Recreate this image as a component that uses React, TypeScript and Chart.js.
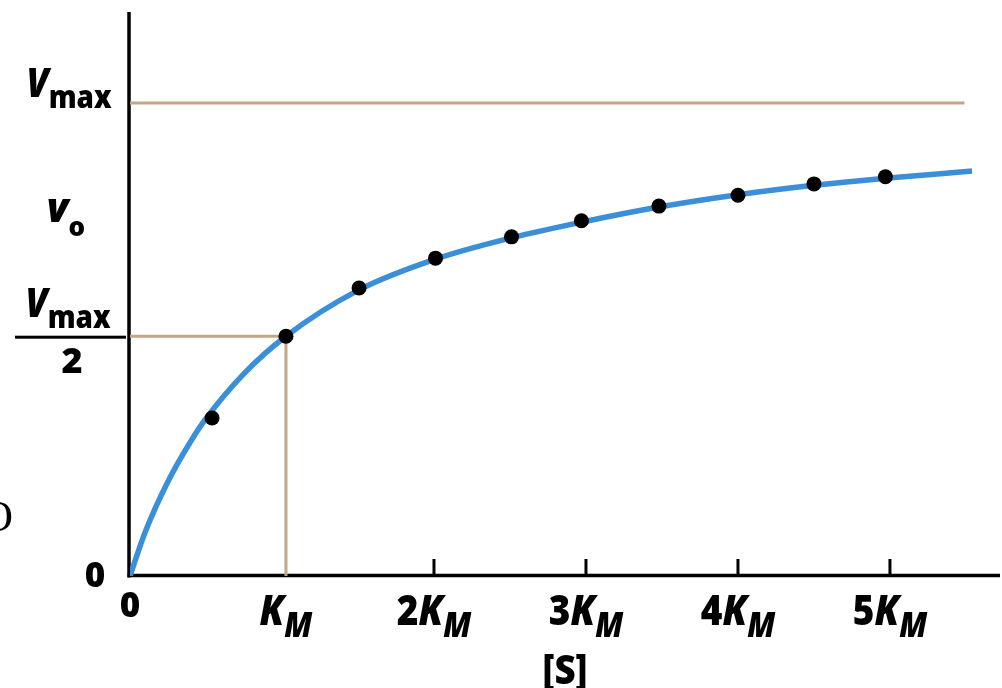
import React, { useEffect, useRef } from "react";
import { Chart, registerables } from "chart.js";

Chart.register(...registerables);

// ---- data (x in units of K_M, y in units of Vmax) ----
const pointX = [0.54, 1.026, 1.507, 2.01, 2.51, 2.97, 3.48, 4.0, 4.5, 4.97];
const pointY = [0.334, 0.507, 0.609, 0.672, 0.717, 0.751, 0.782, 0.805, 0.829, 0.844];

const curveX = [0, 0.1, 0.25, 0.4, 0.5, 0.75, 1.026, 1.507, 2.01, 2.51, 2.97, 3.48, 4.0, 4.5, 4.97, 5.54];
const curveY = [0, 0.093, 0.2, 0.285, 0.333, 0.428, 0.507, 0.605, 0.67, 0.715, 0.748, 0.78, 0.806, 0.826, 0.841, 0.856];

const vmax = 1;
const halfVmax = 0.507;
const km = 1.026;
const vmaxLineEnd = 5.49;

const xTickValues = [0, km, 2, 3, 4, 5];
const xTickLabels = ["0", "K_M", "2K_M", "3K_M", "4K_M", "5K_M"];
const xTickMarks = [2, 3, 4, 5];

const yTickValues = [0, halfVmax, vmax];
const yTickLabels = ["0", "V_max/2", "V_max"];

const xTitle = "[S]";
const yTitle = "v_o";

const X_MAX = 5.724;
const Y_MAX = 1.1924;

const BLUE = "#3b8fd8";
const TAN = "#c4a584";
const FONT = '"Open Sans", "DejaVu Sans", sans-serif';
const W = 800;

type Seg = { text: string; font: string; dy: number };

function drawSegs(ctx: CanvasRenderingContext2D, segs: Seg[], cx: number, baseline: number, sx = 1) {
  let total = 0;
  const widths = segs.map((s) => {
    ctx.font = s.font;
    const w = ctx.measureText(s.text).width;
    total += w;
    return w;
  });
  ctx.save();
  ctx.translate(cx, baseline);
  ctx.scale(sx, 1);
  let x = -total / 2;
  ctx.textAlign = "left";
  ctx.textBaseline = "alphabetic";
  segs.forEach((s, i) => {
    ctx.font = s.font;
    ctx.fillText(s.text, x, s.dy);
    x += widths[i];
  });
  ctx.restore();
}

// "2K_M": digits upright bold, letters italic bold, part after "_" as subscript
function richSegs(label: string, size: number, subSize: number, subDrop: number, subItalic: boolean): Seg[] {
  const [main, sub] = label.split("_");
  const segs: Seg[] = [];
  for (const ch of main) {
    const italic = /[A-Za-z]/.test(ch);
    const font = `${italic ? "italic " : ""}${W} ${size}px ${FONT}`;
    const last = segs[segs.length - 1];
    if (last && last.font === font) last.text += ch;
    else segs.push({ text: ch, font, dy: 0 });
  }
  if (sub) segs.push({ text: sub, font: `${subItalic ? "italic " : ""}${W} ${subSize}px ${FONT}`, dy: subDrop });
  return segs;
}

const drawPlugin = {
  id: "mmDecor",
  beforeDatasetsDraw(chart: any) {
    const ctx: CanvasRenderingContext2D = chart.ctx;
    const xs = chart.scales.x;
    const ys = chart.scales.y;
    const x0 = xs.getPixelForValue(0);
    const y0 = ys.getPixelForValue(0);
    ctx.save();
    ctx.strokeStyle = "#000";
    ctx.lineCap = "butt";
    // y axis
    ctx.lineWidth = 3.5;
    ctx.beginPath();
    ctx.moveTo(x0 - 1, chart.chartArea.top);
    ctx.lineTo(x0 - 1, y0 + 1.5);
    ctx.stroke();
    // x axis
    ctx.beginPath();
    ctx.moveTo(x0 - 2.5, y0 - 0.5);
    ctx.lineTo(chart.chartArea.right, y0 - 0.5);
    ctx.stroke();
    // upward tick marks
    ctx.lineWidth = 3;
    xTickMarks.forEach((v) => {
      const px = xs.getPixelForValue(v);
      ctx.beginPath();
      ctx.moveTo(px, y0);
      ctx.lineTo(px, y0 - 17);
      ctx.stroke();
    });
    ctx.restore();
  },
  afterDraw(chart: any) {
    const ctx: CanvasRenderingContext2D = chart.ctx;
    const xs = chart.scales.x;
    const ys = chart.scales.y;
    const y0 = ys.getPixelForValue(0);
    ctx.save();
    ctx.fillStyle = "#000";

    // x tick labels
    xTickValues.forEach((v, i) => {
      const px = xs.getPixelForValue(v);
      const label = xTickLabels[i];
      if (label === "0") {
        drawSegs(ctx, [{ text: "0", font: `${W} 35px ${FONT}`, dy: 0 }], px, y0 + 41);
      } else {
        drawSegs(ctx, richSegs(label, 42, 35, 12, true), px, y0 + 49, 0.88);
      }
    });

    // y tick labels
    yTickValues.forEach((v, i) => {
      const py = ys.getPixelForValue(v);
      const label = yTickLabels[i];
      if (label === "0") {
        drawSegs(ctx, [{ text: "0", font: `${W} 35px ${FONT}`, dy: 0 }], 95, py + 11);
      } else if (label.includes("/")) {
        const [top, bottom] = label.split("/");
        drawSegs(ctx, richSegs(top, 40, 31, 11, false), 68, py - 19, 0.9);
        ctx.fillRect(15, py - 0.5, 111, 3);
        drawSegs(ctx, [{ text: bottom, font: `${W} 36px ${FONT}`, dy: 0 }], 72, py + 37);
      } else {
        drawSegs(ctx, richSegs(label, 40, 31, 11, false), 69, py - 6, 0.9);
      }
    });

    // axis titles
    drawSegs(ctx, richSegs(yTitle, 40, 26, 14, false), 66, 222);
    drawSegs(ctx, [{ text: xTitle, font: `${W} 40px ${FONT}`, dy: 0 }], 565, 684, 0.92);

    // stray serif glyph at the left edge of the reference
    ctx.font = '44px "Liberation Serif", "DejaVu Serif", serif';
    ctx.textAlign = "right";
    ctx.fillText("O", 13, 531);
    ctx.restore();
  },
};

export default function App() {
  const ref = useRef<HTMLCanvasElement | null>(null);

  useEffect(() => {
    if (!ref.current) return;
    const chart = new Chart(ref.current, {
      type: "scatter",
      data: {
        datasets: [
          {
            data: pointX.map((x, i) => ({ x, y: pointY[i] })),
            pointRadius: 7.5,
            pointBackgroundColor: "#000",
            pointBorderWidth: 0,
            showLine: false,
            order: 0,
          },
          {
            data: curveX.map((x, i) => ({ x, y: curveY[i] })),
            showLine: true,
            pointRadius: 0,
            borderColor: BLUE,
            borderWidth: 5.5,
            cubicInterpolationMode: "monotone",
            order: 1,
          } as any,
          {
            data: [
              { x: 0, y: vmax },
              { x: vmaxLineEnd, y: vmax },
            ],
            showLine: true,
            pointRadius: 0,
            borderColor: TAN,
            borderWidth: 3,
            order: 2,
          },
          {
            data: [
              { x: 0, y: halfVmax },
              { x: km, y: halfVmax },
              { x: km, y: 0 },
            ],
            showLine: true,
            pointRadius: 0,
            borderColor: TAN,
            borderWidth: 3,
            tension: 0,
            order: 3,
          },
        ],
      },
      options: {
        animation: false,
        responsive: false,
        devicePixelRatio: 1,
        events: [],
        layout: { autoPadding: false, padding: { left: 130, right: 2, top: 12, bottom: 112 } },
        plugins: { legend: { display: false }, tooltip: { enabled: false } },
        scales: {
          x: { type: "linear", min: 0, max: X_MAX, display: false },
          y: { type: "linear", min: 0, max: Y_MAX, display: false },
        },
      } as any,
      plugins: [drawPlugin],
    });
    return () => chart.destroy();
  }, []);

  return (
    <div style={{ position: "fixed", left: 0, top: 0, width: 1002, height: 688, background: "#fff" }}>
      <canvas ref={ref} width={1002} height={688} style={{ display: "block", width: 1002, height: 688 }} />
    </div>
  );
}
